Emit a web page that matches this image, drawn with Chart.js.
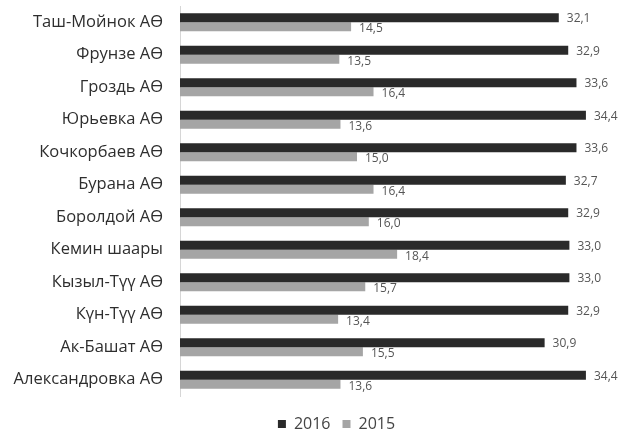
<!DOCTYPE html>
<html>
<head>
<meta charset="utf-8">
<script src="https://cdn.jsdelivr.net/npm/chart.js@4"></script>
<style>
  html, body { margin: 0; padding: 0; background: #fff; }
  #wrap { width: 619px; height: 434px; }
</style>
</head>
<body>
<div id="wrap"><canvas id="myChart"></canvas></div>
<script>
const categories = [
  "Таш-Мойнок АӨ",
  "Фрунзе АӨ",
  "Гроздь АӨ",
  "Юрьевка АӨ",
  "Кочкорбаев АӨ",
  "Бурана АӨ",
  "Боролдой АӨ",
  "Кемин шаары",
  "Кызыл-Түү АӨ",
  "Күн-Түү АӨ",
  "Ак-Башат АӨ",
  "Александровка АӨ"
];
const values2016 = [32.1, 32.9, 33.6, 34.4, 33.6, 32.7, 32.9, 33.0, 33.0, 32.9, 30.9, 34.4];
const values2015 = [14.5, 13.5, 16.4, 13.6, 15.0, 16.4, 16.0, 18.4, 15.7, 13.4, 15.5, 13.6];

const FONT = "'Open Sans', 'Noto Sans', sans-serif";

// value labels at the end of each bar, comma as decimal mark
const valueLabels = {
  id: 'valueLabels',
  afterDatasetsDraw(chart) {
    const ctx = chart.ctx;
    ctx.save();
    ctx.font = '12px ' + FONT;
    ctx.fillStyle = '#555';
    ctx.textAlign = 'left';
    ctx.textBaseline = 'middle';
    chart.data.datasets.forEach((ds, i) => {
      chart.getDatasetMeta(i).data.forEach((bar, j) => {
        const txt = ds.data[j].toFixed(1).replace('.', ',');
        const dy = i === 0 ? 1 : 2;
        ctx.fillText(txt, bar.x + 8, bar.y + dy);
      });
    });
    ctx.restore();
  }
};

// nudge the legend a bit lower and to the right, like the original
const legendShift = {
  id: 'legendShift',
  afterLayout(chart) {
    const lg = chart.legend;
    lg.top += 8; lg.bottom += 8;
    lg.left += 40; lg.right += 40;
  }
};

new Chart(document.getElementById('myChart'), {
  type: 'bar',
  data: {
    labels: categories,
    datasets: [
      { label: '2016', data: values2016, backgroundColor: '#2a2a2a' },
      { label: '2015', data: values2015, backgroundColor: '#a5a5a5' }
    ]
  },
  options: {
    indexAxis: 'y',
    responsive: true,
    maintainAspectRatio: false,
    animation: false,
    datasets: {
      bar: { categoryPercentage: 0.56, barPercentage: 1.0 }
    },
    layout: { padding: { top: 6, right: 26, bottom: 0, left: 0 } },
    scales: {
      x: {
        display: false,
        min: 0,
        max: 35
      },
      y: {
        afterFit(scale) {
          scale.width = 180;
          scale.paddingTop = 0;
          scale.paddingBottom = 0;
        },
        grid: { display: false, drawTicks: false },
        border: { display: true, color: '#d6d6d6' },
        ticks: {
          color: '#2e2e2e',
          padding: 17,
          font: { family: FONT, size: 16.5 }
        }
      }
    },
    plugins: {
      legend: {
        position: 'bottom',
        labels: {
          color: '#444',
          boxWidth: 8,
          boxHeight: 8,
          padding: 12,
          font: { family: FONT, size: 16 }
        }
      },
      tooltip: { enabled: false }
    }
  },
  plugins: [valueLabels, legendShift]
});
</script>
</body>
</html>
